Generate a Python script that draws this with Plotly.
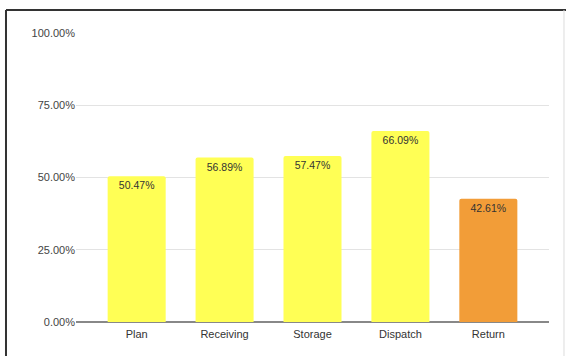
import plotly.graph_objects as go

categories = ["Plan", "Receiving", "Storage", "Dispatch", "Return"]
values = [0.5047, 0.5689, 0.5747, 0.6609, 0.4261]
colors = ["#FFFF55", "#FFFF55", "#FFFF55", "#FFFF55", "#F29D38"]
y_ticks = [0, 0.25, 0.5, 0.75, 1.0]

fig = go.Figure(go.Bar(
    x=categories, y=values,
    marker=dict(color=colors, line=dict(width=0), cornerradius=2),
    width=0.66,
    text=[f"{v*100:.2f}%" for v in values],
    textposition="inside", insidetextanchor="end",
    textfont=dict(family="Liberation Sans, Arial", size=10.5, color="#333333"),
    cliponaxis=False,
))

fig.update_layout(
    width=566, height=356,
    margin=dict(l=76, r=17, t=33, b=34),
    paper_bgcolor="white", plot_bgcolor="white",
    showlegend=False,
    font=dict(family="Liberation Sans, Arial", size=11, color="#444444"),
    xaxis=dict(range=[-0.69, 4.69], showgrid=False, showline=False, ticks="",
               ticklabelstandoff=4,
               tickfont=dict(size=11, color="#333333")),
    yaxis=dict(range=[0, 1.0], tickvals=y_ticks, tickformat=".2%",
               showgrid=True, gridcolor="#E3E3E3", gridwidth=1.2,
               zeroline=True, zerolinecolor="#888888", zerolinewidth=1.5,
               showline=False, ticks="", tickfont=dict(size=11, color="#444444")),
    shapes=[
        dict(type="line", xref="paper", yref="paper", x0=-0.148, x1=1.05, y0=1.0796, y1=1.0796,
             line=dict(color="#333333", width=2)),
        dict(type="line", xref="paper", yref="paper", x0=-0.148, x1=-0.148, y0=1.0796, y1=-0.2,
             line=dict(color="#333333", width=2)),
        dict(type="line", xref="paper", yref="paper", x0=1.0317, x1=1.0317, y0=1.0796, y1=-0.2,
             line=dict(color="#DDDDDD", width=1)),
    ],
)

fig.write_html("out.html", config={"displayModeBar": False},
               post_script="document.body.style.margin='0px';document.body.style.overflow='hidden';")
